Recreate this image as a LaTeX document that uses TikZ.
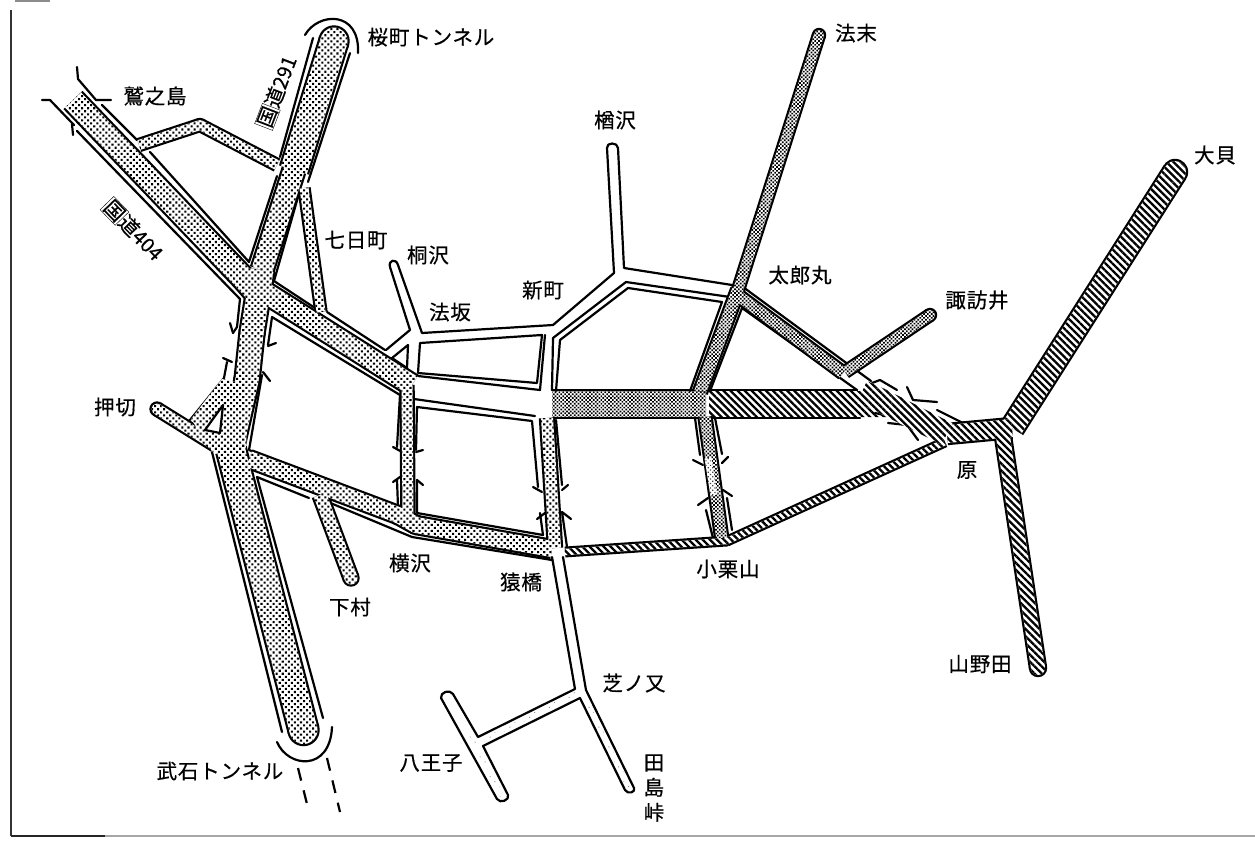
\documentclass[tikz,border=0pt]{standalone}
\usepackage{fontspec}
\usetikzlibrary{calc,patterns.meta}
\newfontfamily\jp[LetterSpace=4,FakeBold=0.5]{Noto Sans CJK JP}
\newfontfamily\jr[FakeBold=0.5]{Noto Sans CJK JP}
\tikzset{
  ln/.style={line width=2.2pt,line join=round,line cap=round,black},
  roaddots/.style={pattern={Dots[distance=4.3pt,radius=1.45pt,angle=45]},pattern color=black},
  roaddense/.style={pattern={Dots[distance=2.7pt,radius=1.2pt,angle=45]},pattern color=black},
  roadhatch/.style={pattern={Lines[angle=-45,distance=5pt,line width=2.3pt]},pattern color=black},
  roadlight/.style={pattern={Dots[distance=3.2pt,radius=.85pt,angle=45]},pattern color=black!75},
  roadpale/.style={pattern={Dots[distance=7pt,radius=.7pt,angle=45]},pattern color=black!45},
  lab/.style={font=\jp\fontsize{20.5}{25}\selectfont,inner sep=0pt,align=center},
  routelab/.style={font=\jr\fontsize{20}{22}\selectfont,inner sep=0pt}
}
\newcommand\coreseg[6]{%
  \pgfmathsetmacro\hw{#5/2}%
  \fill[white] ($(#1,#2)!\hw pt!90:(#3,#4)$) -- ($(#1,#2)!\hw pt!-90:(#3,#4)$) -- ($(#3,#4)!\hw pt!90:(#1,#2)$) -- ($(#3,#4)!\hw pt!-90:(#1,#2)$) -- cycle;
  \path[#6] ($(#1,#2)!\hw pt!90:(#3,#4)$) -- ($(#1,#2)!\hw pt!-90:(#3,#4)$) -- ($(#3,#4)!\hw pt!90:(#1,#2)$) -- ($(#3,#4)!\hw pt!-90:(#1,#2)$) -- cycle;
}
\newcommand\corepiece[4]{%
  \pgfmathsetmacro\hw{#3/2}%
  \fill[white] (#1,#2) circle (\hw pt);
  \path[#4] (#1,#2) circle (\hw pt);
}
\newcommand\Rcore[3]{%
  \foreach \X/\Y [count=\i,remember=\X as \PX,remember=\Y as \PY] in {#3}{%
    \ifnum\i>1 \coreseg{\PX}{\PY}{\X}{\Y}{#1}{#2}\fi
    \ifnum\i>2 \corepiece{\PX}{\PY}{#1}{#2}\fi
  }%
}
\newcommand\Rblack[3]{%
  \pgfmathsetmacro\ow{#1+4.4}%
  \foreach \X/\Y [count=\i,remember=\X as \PX,remember=\Y as \PY] in {#3}{%
    \ifnum\i>1 \draw[line width=\ow pt,black] (\PX,\PY) -- (\X,\Y);\fi
    \ifnum\i>2 \fill[black] (\PX,\PY) circle (\ow pt/2);\fi
  }%
}
\newcommand\Dblack[4]{\pgfmathsetmacro\ow{#3+4.4}\fill[black] (#1,#2) circle (\ow pt/2);}
\newcommand\allroads{%
  \R{22}{roaddots}{73/100,245/280,258/295}
  \R{20}{roaddots}{250/283,412/385}
  \R{27}{roaddots}{334/41,294/170}
  \D{334}{41}{27}{roaddots}
  \R{21}{roaddots}{294/170,262/270}
  \R{23}{roaddots}{262/270,252/333,247/380,231/450}
  \R{28}{roaddots}{231/450,303.5/730}
  \D{303.5}{730}{28}{roaddots}
  \R{10}{roaddots}{139/145,200/125,277/165}
  \R{9}{roaddots}{304/188,321/312}
  \R{16}{roaddots}{249/459,398/515,416/525,552/549}
  \R{13}{roaddots}{320/495,351/578}
  \D{351}{578}{13}{roaddots}
  \R{11}{roaddots}{407/385,408/520}
  \R{12}{roaddots}{547/418,555/548}
  \R{11}{roaddots}{157/409,215/445}
  \D{157}{409}{11}{roaddots}
  \R{10}{roaddense}{819/35,738/290}
  \D{819}{35}{10}{roaddense}
  \R{12}{roaddense}{738/290,700/392}
  \R{11}{roaddense}{740/297,843/373}
  \R{10}{roaddense}{845/372,930/315}
  \D{930}{315}{10}{roaddense}
  \R{11}{roaddense}{705/417,722/540}
  \R{22}{roadhatch}{1012/428,1175/172}
  \D{1175}{172}{22}{roadhatch}
  \R{18}{roadhatch}{947/434,1012/428}
  \R{14}{roadhatch}{1002/430,1038/668}
  \D{1038}{668}{14}{roadhatch}
  \R{6.5}{roadhatch}{945/442,727/541,565/552}
}
\begin{document}
\begin{tikzpicture}[x=1pt,y=-1pt]
\useasboundingbox (0,0) rectangle (1255,841);
\fill[white] (0,0) rectangle (1255,841);
% frame
\draw[line width=2pt,black!80] (11,10) -- (11,836);
\draw[line width=2pt,black!35] (11,836) -- (1255,836);
\draw[line width=2pt,black!85] (11,836) -- (105,836);
\draw[line width=2pt,black!45] (15,0.5) -- (50,0.5);
% edge lines of the roads
\draw[ln] (42,100) -- (50,100) -- (74,125);
\draw[ln] (72,124) -- (73,135);
\draw[ln] (77,131) -- (240,299) -- (237,327) -- (233,333);
\draw[ln] (230,323) -- (233,333);
\draw[ln] (223,358) -- (232,362);
\draw[ln] (227,362) -- (224,378) -- (190,420);
\draw[ln] (272,317) -- (268,345);
\draw[ln] (268,346) -- (276,343);
\draw[ln] (263,372) -- (270,381);
\draw[ln] (262,375) -- (249,450) -- (398,507);
\draw[ln] (212,452) -- (282,732);
\draw[ln] (309,498) -- (257,477) -- (323,718);
\draw[ln] (298,197) -- (274,281) -- (315,308);
\draw[ln] (327,312) -- (385,350);
\draw[ln] (272,317) -- (400,395) -- (397,447);
\draw[ln] (313,38) -- (280,157);
\draw[ln] (350,53) -- (308,182);
\draw[ln] (77,67) -- (78,79) -- (96,100) -- (111,100);
\draw[ln] (102,105) -- (137,140);
\draw[ln] (150,152) -- (249,262) -- (277,176);
\draw[ln] (305,35) .. controls (318,12) and (360,10) .. (358,53);
\draw[ln] (277,742) .. controls (288,768) and (330,772) .. (332,727);
\draw[ln,line cap=butt,dash pattern=on 13pt off 10pt] (298,768) -- (309,812);
\draw[ln,line cap=butt,dash pattern=on 13pt off 10pt] (327,758) -- (340,812);
\draw[ln] (386,350) -- (410,330) -- (390,267) .. controls (388,260) and (396,258) .. (398,265) -- (422,333) -- (553,325) -- (614,273) -- (607,148) .. controls (606,142) and (618,142) .. (618,148) -- (624,268) -- (732,285);
\draw[ln] (730,297) -- (626,282) -- (553,338) -- (552,390);
\draw[ln] (556,391) -- (560,340) -- (628,288) -- (722,302) -- (690,391);
\draw[ln] (710,391) -- (742,308) -- (857,390);
\draw[ln] (743,287) -- (845,362) -- (871,381);
\draw[ln] (872,383) -- (880,380) -- (897,390);
\draw[ln] (907,387) -- (913,400) -- (937,402);
\draw[ln] (937,410) -- (963,423);
\draw[ln] (875,413) -- (893,417);
\draw[ln] (888,423) -- (907,425) -- (918,440);
\draw[ln] (922,433) -- (943,442);
\draw[ln] (552,390) -- (857,390);
\draw[ln] (553,418) -- (860,418);
\draw[ln] (420,343) -- (542,335) -- (537,383) -- (418,373) -- cycle;
\draw[ln] (418,376) -- (540,390) -- (545,335);
\draw[ln] (414,399) -- (535,416);
\draw[ln] (416,450) -- (417,407) -- (532,421) -- (538,487);
\draw[ln] (540,513) -- (543,535) -- (417,513) -- (417,480);
\draw[ln] (423,450) -- (416,452);
\draw[ln] (423,485) -- (417,480);
\draw[ln] (393,447) -- (402,452);
\draw[ln] (393,482) -- (400,477);
\draw[ln] (397,480) -- (398,507);
\draw[ln] (533,487) -- (542,492);
\draw[ln] (537,519) -- (545,513);
\draw[ln] (556,420) -- (562,485);
\draw[ln] (568,485) -- (562,490);
\draw[ln] (571,519) -- (562,512) -- (567,547);
\draw[ln] (695,418) -- (700,455);
\draw[ln] (693,460) -- (703,465);
\draw[ln] (698,505) -- (708,498);
\draw[ln] (706,510) -- (713,538);
\draw[ln] (715,418) -- (722,454);
\draw[ln] (728,457) -- (722,463);
\draw[ln] (732,496) -- (723,490);
\draw[ln] (727,498) -- (732,530);
\draw[ln] (328,502) -- (412,537) -- (552,560);
\draw[ln] (552,557) -- (575,689) -- (478,737) -- (453,694) .. controls (450,689) and (440,692) .. (441,698) -- (497,799) .. controls (500,804) and (510,800) .. (508,795) -- (483,746) -- (580,698) -- (625,790) .. controls (628,795) and (636,792) .. (634,788) -- (586,690) -- (563,557);
% outlined cores
\let\R\Rblack \let\D\Dblack
\allroads
\let\R\Rcore \let\D\corepiece
\allroads
% wedge beside the stem, with its small hole
\fill[white] (191,419) -- (222,379) -- (250,385) -- (245,460) -- (212,451) -- cycle;
\path[roaddots] (191,419) -- (222,379) -- (250,385) -- (245,460) -- (212,451) -- cycle;
\draw[ln,fill=white] (205,430) -- (223,405) -- (220,433) -- cycle;
\draw[ln,fill=white] (392,358) -- (408,345) -- (407,368) -- cycle;
% unoutlined bands
\path[roaddense] (552,391) rectangle (706,417);
\path[roadhatch] (709,391) -- (860,391) -- (875,387) -- (895,417) -- (709,417) -- cycle;
\Rcore{24}{roadhatch}{862/392,880/400,947/434}
\Rcore{7}{roadlight}{708/458,714/495}
\Rcore{4}{roadpale}{576/693.5,481/741.5}
\Rcore{4}{roadpale}{583/694,629.5/789}
\Rcore{4}{roadpale}{470/733,502.5/797}
% labels
\node[lab] (sakura) at (431,37) {桜町トンネル};
\node[lab] (sagi) at (155,96) {鷲之島};
\node[lab] (houmatsu) at (856,33) {法末};
\node[lab] (narasawa) at (615,120) {楢沢};
\node[lab] (ogai) at (1215,155) {大貝};
\node[lab] (nanoka) at (356,240) {七日町};
\node[lab] (kirisawa) at (428,255) {桐沢};
\node[lab] (hosaka) at (450,312) {法坂};
\node[lab] (shinmachi) at (543,290) {新町};
\node[lab] (taromaru) at (800,275) {太郎丸};
\node[lab] (suwai) at (977,300) {諏訪井};
\node[lab] (oshikiri) at (115,407) {押切};
\node[lab] (hara) at (967,470) {原};
\node[lab] (yokosawa) at (410,563) {横沢};
\node[lab] (saruhashi) at (521,582) {猿橋};
\node[lab] (oguri) at (728,569) {小栗山};
\node[lab] (shimomura) at (350,607) {下村};
\node[lab] (shibanomata) at (634,683) {芝ノ又};
\node[lab] (yamanoda) at (980,664) {山野田};
\node[lab] (hachioji) at (431,763) {八王子};
\node[lab] (takeishi) at (220,771) {武石トンネル};
\node[lab] (tajima) at (654,788) {田\\島\\峠};
\node[routelab,rotate=69] (r291) at (277,92) {\setlength{\fboxsep}{0.6pt}\fbox{国}道291};
\node[routelab,rotate=-46] (r404) at (133,230) {\setlength{\fboxsep}{0.6pt}\fbox{国}道404};
\end{tikzpicture}
\end{document}
